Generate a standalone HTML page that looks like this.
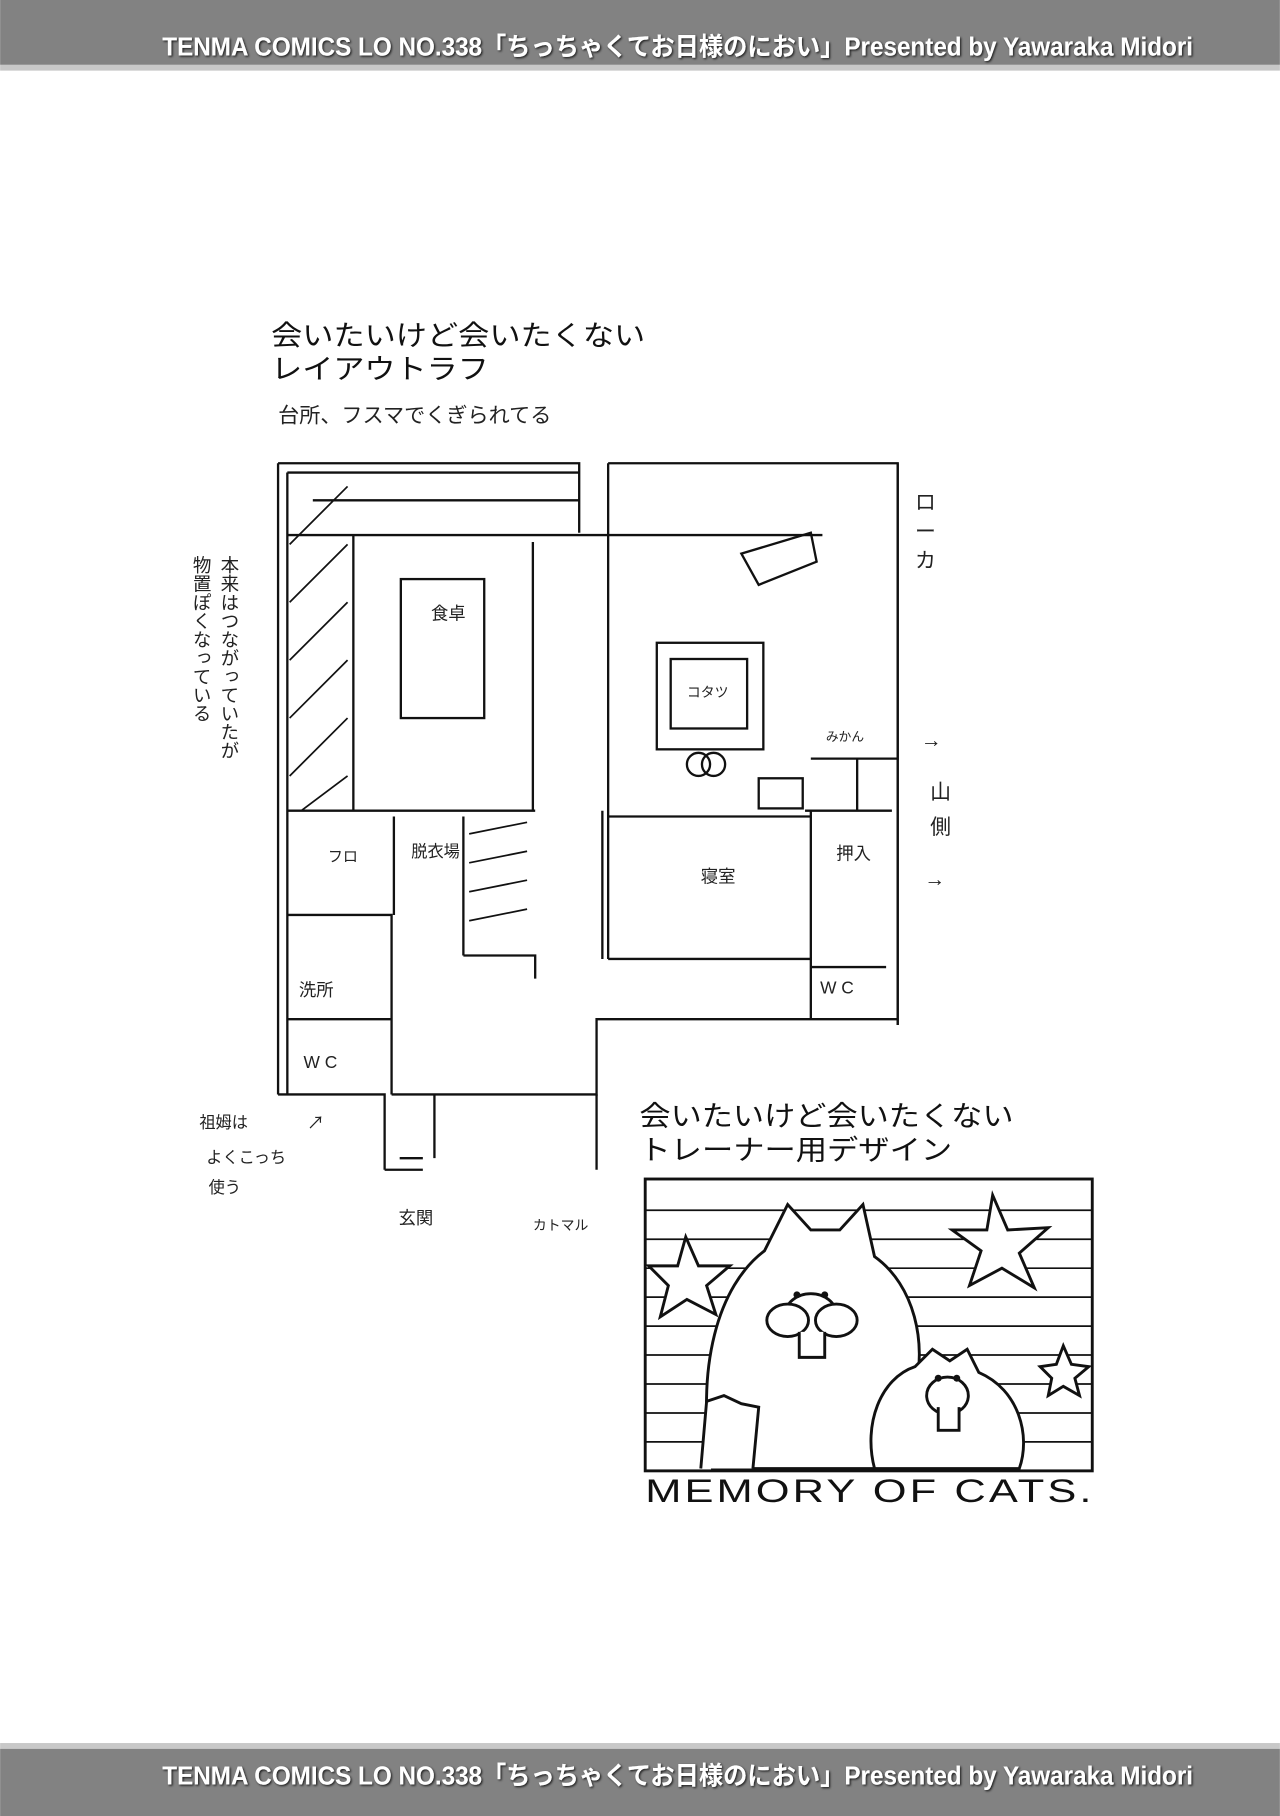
<!DOCTYPE html>
<html><head><meta charset="utf-8"><style>
html,body{margin:0;padding:0;background:#fff;}
svg{display:block;}
.h{font-family:"Liberation Sans","Noto Sans CJK JP",sans-serif;}
</style></head><body>
<svg width="1280" height="1816" viewBox="0 0 1105 1568" xmlns="http://www.w3.org/2000/svg">
<defs><filter id="sh"><feDropShadow dx="1" dy="1" stdDeviation="1" flood-color="#000" flood-opacity="0.8"/></filter></defs>
<rect width="1105" height="1568" fill="#fff"/>
<rect x="0" y="0" width="1105" height="56" fill="#828282"/>
<rect x="0" y="56" width="1105" height="5" fill="#c8c8c8"/>
<text class="h" x="1030" y="48" text-anchor="end" font-size="22" font-weight="bold" fill="#fff" filter="url(#sh)" textLength="890" lengthAdjust="spacingAndGlyphs">TENMA COMICS LO NO.338「ちっちゃくてお日様のにおい」Presented by Yawaraka Midori</text>
<rect x="0" y="1505" width="1105" height="5" fill="#c8c8c8"/>
<rect x="0" y="1510" width="1105" height="58" fill="#828282"/>
<text class="h" x="1030" y="1541" text-anchor="end" font-size="22" font-weight="bold" fill="#fff" filter="url(#sh)" textLength="890" lengthAdjust="spacingAndGlyphs">TENMA COMICS LO NO.338「ちっちゃくてお日様のにおい」Presented by Yawaraka Midori</text>

<text class="h" x="234" y="298" font-size="24" fill="#111" textLength="323" lengthAdjust="spacingAndGlyphs">会いたいけど会いたくない</text>
<text class="h" x="234" y="327" font-size="24" fill="#111" textLength="188" lengthAdjust="spacingAndGlyphs">レイアウトラフ</text>
<text class="h" x="240" y="365" font-size="18" fill="#222" textLength="236" lengthAdjust="spacingAndGlyphs">台所、フスマでくぎられてる</text>

<g fill="none" stroke="#111" stroke-width="2">
<path d="M240 400 V945 M240 400 H500 V460 M525 400 H775 V885 M240 945 H332 V1010 M332 1010 H365"/>
<path d="M248 408 H500 M248 408 V945"/>
<path d="M270 432 H500 M248 462 H710 M305 462 V700 M460 468 V700 M525 400 V828"/>
<path d="M248 700 H462 M248 790 H338 V945 M338 945 H515 V880 H775"/>
<path d="M400 705 V825 M340 705 V790 M400 825 H462 V845 M525 705 H700 M525 828 H700 V880 M700 700 V880 M700 655 H775 M740 655 V700 M700 835 H765 M248 880 H338"/>
<path d="M520 700 V828 M695 700 H770 M775 400 V885"/>
<rect x="346" y="500" width="72" height="120"/>
<rect x="567" y="555" width="92" height="92"/>
<rect x="579" y="569" width="66" height="60"/>
<path d="M640 478 L700 460 L705 485 L655 505 Z"/>
<path d="M375 945 V1000 M515 945 V1010 M345 1000 H365"/>
<rect x="655" y="672" width="38" height="26"/>
<circle cx="603" cy="660" r="10"/><circle cx="616" cy="660" r="10"/>
</g>
<g stroke="#111" stroke-width="1.5">
<path d="M250 470 L300 420 M250 520 L300 470 M250 570 L300 520 M250 620 L300 570 M250 670 L300 620 M260 700 L300 670"/>
<path d="M405 720 L455 710 M405 745 L455 735 M405 770 L455 760 M405 795 L455 785"/>
</g>
<g class="h" font-size="15" fill="#222">
<text x="372" y="535">食卓</text>
<text x="593" y="602" font-size="12">コタツ</text>
<text x="283" y="744" font-size="13">フロ</text>
<text x="355" y="740" font-size="14">脱衣場</text>
<text x="258" y="860">洗所</text>
<text x="262" y="922">W C</text>
<text x="605" y="762">寝室</text>
<text x="722" y="742">押入</text>
<text x="708" y="858">W C</text>
<text x="713" y="640" font-size="11">みかん</text>
<text x="344" y="1057">玄関</text>
<text x="460" y="1062" font-size="12">カトマル</text>
<text x="172" y="974" font-size="14">祖姆は</text>
<text x="178" y="1004" font-size="14">よくこっち</text>
<text x="180" y="1030" font-size="14">使う</text>
<text x="265" y="975">↗</text>
</g>
<g class="h" font-size="18" fill="#222">
<text x="790" y="440">ロ</text><text x="790" y="465">ー</text><text x="790" y="490">カ</text>
<text x="795" y="645">→</text>
<text x="803" y="690">山</text><text x="803" y="720">側</text>
<text x="798" y="765">→</text>
<text x="198" y="480" writing-mode="tb" font-size="16">本来はつながっていたが</text>
<text x="174" y="480" writing-mode="tb" font-size="16">物置ぽくなっている</text>
</g>

<text class="h" x="552" y="972" font-size="24" fill="#111" textLength="323" lengthAdjust="spacingAndGlyphs">会いたいけど会いたくない</text>
<text class="h" x="552" y="1001" font-size="24" fill="#111" textLength="270" lengthAdjust="spacingAndGlyphs">トレーナー用デザイン</text>
<g stroke="#111" fill="none">
<rect x="557" y="1018" width="386" height="252" stroke-width="2.5"/>
<g stroke-width="1.5">
<path d="M557 1045H943 M557 1070H943 M557 1095H943 M557 1120H943 M557 1145H943 M557 1170H943 M557 1195H943 M557 1220H943 M557 1245H943"/>
</g>
</g>
<g stroke="#111" stroke-width="2.5" fill="#fff">
<polygon points="857,1032 870,1062 905,1060 880,1082 893,1112 865,1095 837,1110 847,1080 822,1062 852,1062"/>
<polygon points="592,1068 603,1093 630,1093 610,1110 618,1135 593,1122 570,1137 577,1110 560,1093 585,1093"/>
<polygon points="918,1162 925,1178 940,1180 928,1190 932,1205 918,1197 905,1205 908,1190 898,1180 912,1178"/>
<path d="M615 1268 C600 1180 620 1110 660 1080 L680 1040 L700 1062 L725 1062 L745 1040 L755 1085 C790 1110 800 1160 790 1200 L760 1268 Z"/>
<path d="M755 1268 C745 1230 760 1190 790 1180 L805 1165 L820 1175 L835 1165 L845 1185 C880 1200 890 1240 880 1268 Z"/>
<path d="M605 1268 L610 1210 L625 1205 L640 1212 L655 1215 L650 1268"/>
<ellipse cx="700" cy="1135" rx="22" ry="18"/>
<ellipse cx="680" cy="1140" rx="18" ry="14"/><ellipse cx="722" cy="1140" rx="18" ry="14"/>
<path d="M690 1150 V1172 H712 V1150"/>
<ellipse cx="818" cy="1205" rx="18" ry="16"/>
<path d="M810 1215 V1235 H828 V1215"/>
</g>
<g fill="#111"><circle cx="688" cy="1118" r="3"/><circle cx="712" cy="1118" r="3"/><circle cx="810" cy="1190" r="3"/><circle cx="826" cy="1190" r="3"/></g>
<text class="h" x="557" y="1297" font-size="28" fill="#111" textLength="388" lengthAdjust="spacingAndGlyphs" letter-spacing="2">MEMORY OF CATS.</text>
</svg>
</body></html>
